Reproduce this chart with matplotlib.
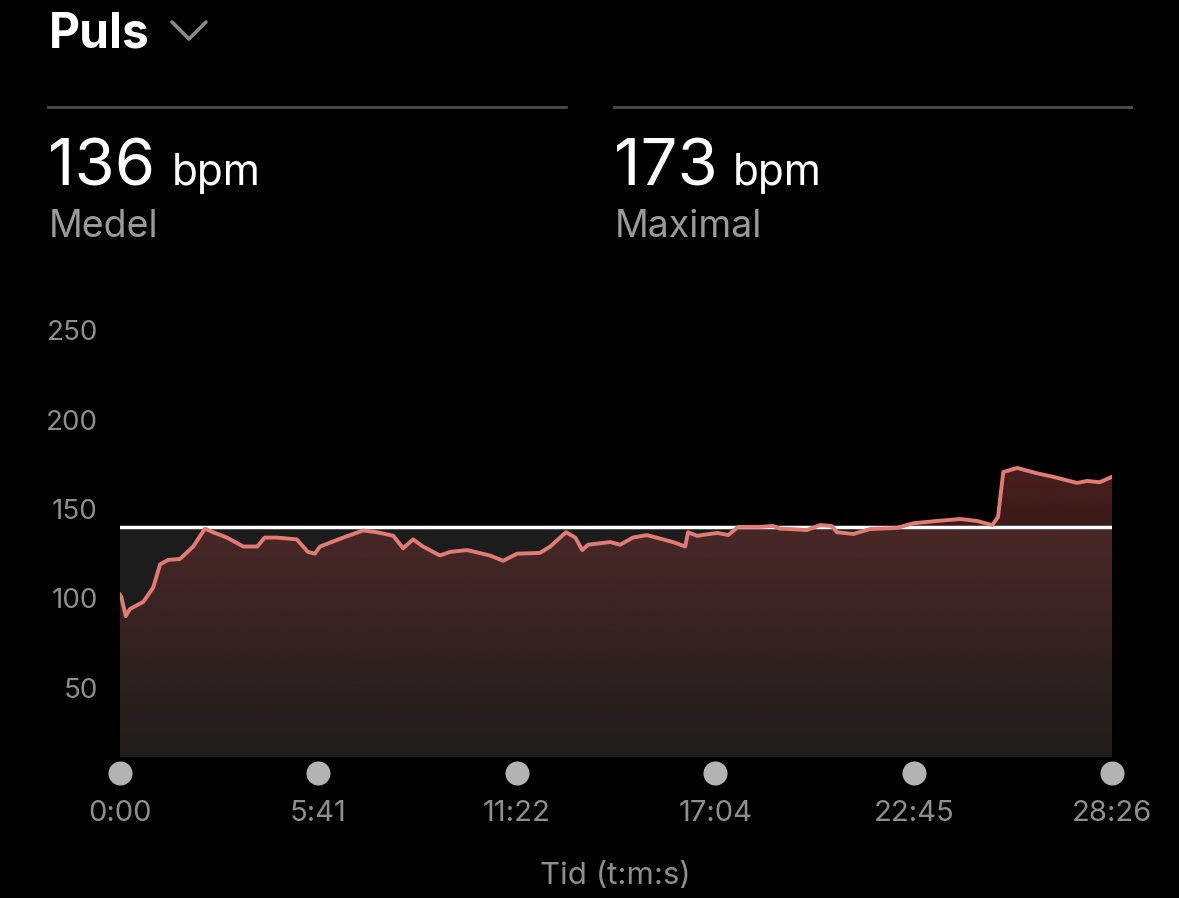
import matplotlib
matplotlib.use('Agg')
import matplotlib.pyplot as plt
import numpy as np
from matplotlib.patches import Polygon
from matplotlib.lines import Line2D
from matplotlib.transforms import blended_transform_factory

plt.rcParams['font.family'] = ['Inter', 'DejaVu Sans']

# ---- data ----
time_s = [0, 2, 10, 17, 40, 57, 69, 83, 103, 126,
          146, 160, 184, 212, 236, 249, 270, 304, 323, 335,
          344, 384, 418, 442, 470, 487, 504, 521, 550, 568,
          597, 636, 659, 683, 722, 740, 767, 783, 795, 805,
          843, 860, 882, 906, 951, 972, 977, 992, 1027, 1046,
          1063, 1101, 1123, 1135, 1152, 1181, 1204, 1224, 1233, 1261,
          1290, 1336, 1364, 1405, 1445, 1474, 1500, 1510, 1519, 1543,
          1577, 1605, 1646, 1663, 1685, 1706]
bpm = [102, 101, 90, 94, 98, 106, 119, 121.5, 122, 129,
       139, 137, 134, 129, 129, 134, 134, 133, 126, 125,
       129, 134, 138, 137, 135, 128, 133, 129, 124, 126,
       127, 124, 121, 125, 125.4, 129, 137, 134, 127, 130,
       131.5, 130, 134, 135.4, 131.5, 129, 137, 135, 136.6, 135.4,
       140, 140, 140.5, 139, 138.8, 138.2, 141, 140.5, 137, 136,
       138.8, 139.4, 142, 143.3, 144.4, 143.3, 141, 145.5, 170.7, 173,
       170, 168, 164.6, 165.7, 165, 168]
avg_line = 140
xtick_pos = [0, 341, 682, 1024, 1365, 1706]
xtick_labels = ['0:00', '5:41', '11:22', '17:04', '22:45', '28:26']
ytick_pos = [50, 100, 150, 200, 250]
title = 'Puls'
stat1_value, stat1_label = '136', 'Medel'
stat2_value, stat2_label = '173', 'Maximal'
unit = 'bpm'
xlabel = 'Tid (t:m:s)'

W, H = 1179, 898
fig = plt.figure(figsize=(W / 100, H / 100), dpi=100, facecolor='black')


def fx(x):
    return x / W


def fy(y):
    return 1 - y / H


ax_top, ax_bot = 300, 757
ax = fig.add_axes([fx(120), fy(ax_bot), (1112 - 120) / W, (ax_bot - ax_top) / H])
ax.set_facecolor('black')
pxper = 1.786
ymin = 150 - (ax_bot - 509) / pxper
ymax = 150 + (509 - ax_top) / pxper
for s in ax.spines.values():
    s.set_visible(False)

# gray background up to average line
ax.axhspan(ymin, avg_line, color='#1c1c1c', zorder=0, lw=0)

# gradient fill under curve
n = 256
grad = np.zeros((n, 1, 4))
grad[:, 0, 0] = 118 / 255
grad[:, 0, 1] = 52 / 255
grad[:, 0, 2] = 50 / 255
grad[:, 0, 3] = np.linspace(0.04, 0.62, n)
im = ax.imshow(grad, extent=[0, 1706, ymin, 175], aspect='auto', origin='lower',
               zorder=1, interpolation='bilinear')
verts = list(zip(time_s, bpm)) + [(time_s[-1], ymin), (time_s[0], ymin)]
poly = Polygon(verts, closed=True, facecolor='none', edgecolor='none')
ax.add_patch(poly)
im.set_clip_path(poly)
ax.set_xlim(0, 1706)
ax.set_ylim(ymin, ymax)

ax.axhline(avg_line, color='white', lw=2.5, zorder=3)
ax.plot(time_s, bpm, color='#e27b74', lw=2.8, zorder=4, solid_joinstyle='round')

ax.set_yticks(ytick_pos)
ax.set_yticklabels([str(v) for v in ytick_pos])
ax.set_xticks(xtick_pos)
ax.set_xticklabels(xtick_labels)
ax.tick_params(axis='y', length=0, pad=16, labelsize=20, labelcolor='#8e8e8e')
ax.tick_params(axis='x', length=0, pad=31, labelsize=21, labelcolor='#8e8e8e')

trans = blended_transform_factory(ax.transData, ax.transAxes)
ax.scatter(xtick_pos, [-16 / (ax_bot - ax_top)] * len(xtick_pos), s=300,
           color='#b3b3b3', transform=trans, clip_on=False, zorder=5, lw=0)

# header texts
fig.text(fx(49), fy(47), title, fontsize=34.5, fontweight='bold', color='white', va='baseline')
fig.add_artist(Line2D([fx(172), fx(189), fx(206)], [fy(22), fy(39), fy(22)],
                      color='#8a8a8a', lw=2.6, solid_capstyle='round'))

for x0, x1 in [(48, 566), (614, 1131)]:
    fig.add_artist(Line2D([fx(x0), fx(x1)], [fy(107), fy(107)], color='#4d4d4d', lw=2))

fig.text(fx(48), fy(185), stat1_value, fontsize=47, color='white', va='baseline')
fig.text(fx(172), fy(185), unit, fontsize=30.5, color='white', va='baseline')
fig.text(fx(49), fy(237), stat1_label, fontsize=27, color='#9a9a9a', va='baseline')

fig.text(fx(614), fy(185), stat2_value, fontsize=47, color='white', va='baseline')
fig.text(fx(733), fy(185), unit, fontsize=30.5, color='white', va='baseline')
fig.text(fx(615), fy(237), stat2_label, fontsize=27, color='#9a9a9a', va='baseline')

fig.text(fx(615), fy(884), xlabel, fontsize=22.5, color='#8e8e8e', ha='center', va='baseline')

fig.savefig('out.png', dpi=100, facecolor='black')
